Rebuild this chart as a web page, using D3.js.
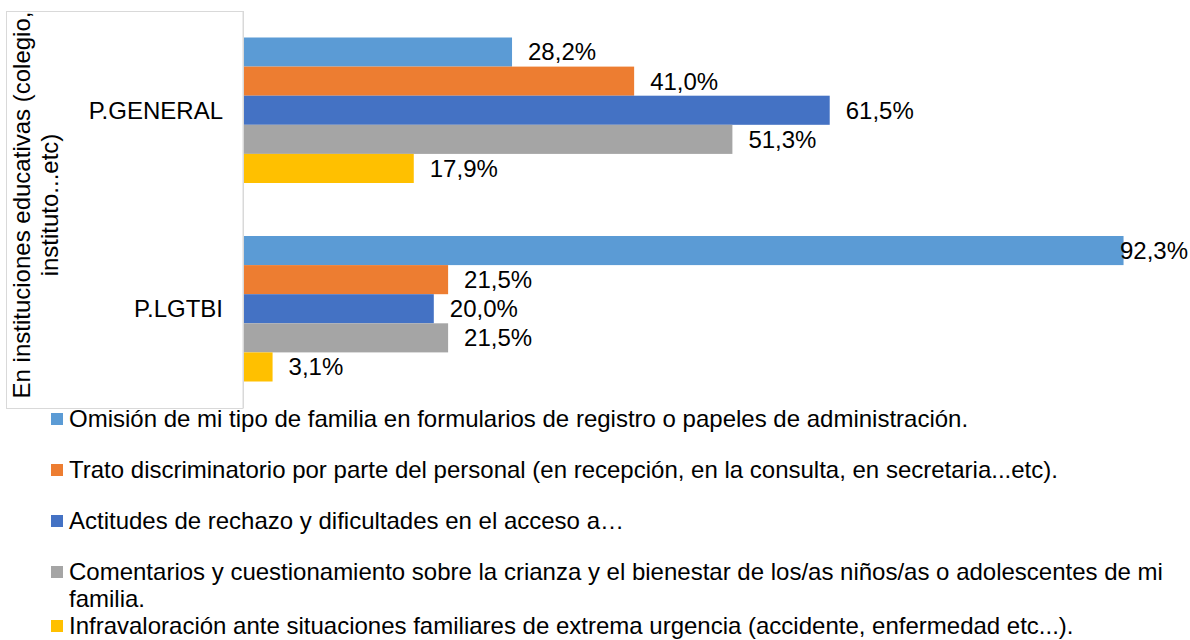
<!DOCTYPE html>
<html>
<head>
<meta charset="utf-8">
<script src="https://cdn.jsdelivr.net/npm/d3@7"></script>
<style>
  html, body { margin: 0; padding: 0; background: #fff; }
  svg { display: block; font-family: "Liberation Sans", Arial, sans-serif; }
</style>
</head>
<body>
<svg id="chart" width="1190" height="640"></svg>
<script>
// ---- data ----
const categories = ["P.GENERAL", "P.LGTBI"];
const seriesNames = [
  "Omisión de mi tipo de familia en formularios de registro o papeles de administración.",
  "Trato discriminatorio por parte del personal (en recepción, en la consulta, en secretaria...etc).",
  "Actitudes de rechazo y dificultades en el acceso a…",
  "Comentarios y cuestionamiento sobre la crianza y el bienestar de los/as niños/as o adolescentes de mi familia.",
  "Infravaloración ante situaciones familiares de extrema urgencia (accidente, enfermedad etc...)."
];
const seriesColors = ["#5B9BD5", "#ED7D31", "#4472C4", "#A5A5A5", "#FFC000"];
const valuesGeneral = [28.2, 41.0, 61.5, 51.3, 17.9];
const valuesLGTBI = [92.3, 21.5, 20.0, 21.5, 3.1];
const axisTitleLines = ["En instituciones educativas (colegio,", "instituto...etc)"];

const valuesByCategory = [valuesGeneral, valuesLGTBI];

// ---- layout ----
const svg = d3.select("#chart");
const FONT = 24;
const plotLeft = 243, plotTop = 11, plotBottom = 408;
const x = d3.scaleLinear().domain([0, 100]).range([plotLeft, plotLeft + 954]);
const y = d3.scaleBand().domain(categories).range([plotTop, plotBottom])
  .paddingInner(0.267).paddingOuter(0.1335);
const ySub = d3.scaleBand().domain(d3.range(seriesNames.length)).range([0, y.bandwidth()]).padding(0);

// axis title box
svg.append("rect")
  .attr("x", 6.5).attr("y", plotTop + 0.5)
  .attr("width", plotLeft - 6.5).attr("height", plotBottom - plotTop)
  .attr("fill", "none").attr("stroke", "#d9d9d9").attr("stroke-width", 1);

// axis title (rotated)
const titleCenterY = 205;
const tg = svg.append("g");
axisTitleLines.forEach((ln, i) => {
  tg.append("text")
    .attr("transform", `translate(${30 + i * 28},${titleCenterY}) rotate(-90)`)
    .attr("text-anchor", "middle")
    .attr("font-size", FONT)
    .attr("fill", "#000")
    .text(ln);
});

// bars
const fmt = v => d3.format(".1f")(v).replace(".", ",") + "%";
categories.forEach((cat, ci) => {
  const g = svg.append("g").attr("transform", `translate(0,${y(cat)})`);
  const vals = valuesByCategory[ci];
  g.selectAll("rect.bar").data(vals).join("rect")
    .attr("class", "bar")
    .attr("x", x(0))
    .attr("y", (d, i) => ySub(i))
    .attr("width", d => x(d) - x(0))
    .attr("height", ySub.bandwidth())
    .attr("fill", (d, i) => seriesColors[i]);
  g.selectAll("text.lbl").data(vals).join("text")
    .attr("class", "lbl")
    .attr("y", (d, i) => ySub(i) + ySub.bandwidth() / 2)
    .attr("dy", "0.35em")
    .attr("font-size", FONT)
    .attr("fill", "#000")
    .text(d => fmt(d))
    .each(function(d) {
      const w = this.getComputedTextLength();
      let lx = x(d) + 16;
      if (lx + w > 1188) lx = 1188 - w;
      d3.select(this).attr("x", lx);
    });
});

// category axis line
svg.append("line")
  .attr("x1", plotLeft + 0.5).attr("x2", plotLeft + 0.5)
  .attr("y1", plotTop).attr("y2", plotBottom)
  .attr("stroke", "#d9d9d9").attr("stroke-width", 1);

// category labels
svg.selectAll("text.cat").data(categories).join("text")
  .attr("class", "cat")
  .attr("x", 223)
  .attr("y", d => y(d) + y.bandwidth() / 2)
  .attr("dy", "0.35em")
  .attr("text-anchor", "end")
  .attr("font-size", FONT)
  .attr("fill", "#000")
  .text(d => d);

// legend
const legendX = 51, textX = 69, maxRight = 1178;
const rowBaselines = [427, 478, 529, 580, 634];
const lineGap = 27;
seriesNames.forEach((name, i) => {
  const g = svg.append("g");
  g.append("rect")
    .attr("x", legendX).attr("y", rowBaselines[i] - 14)
    .attr("width", 12).attr("height", 12)
    .attr("fill", seriesColors[i]);
  const t = g.append("text")
    .attr("font-size", FONT).attr("fill", "#000");
  const words = name.split(" ");
  let line = [];
  let lineNo = 0;
  let tspan = t.append("tspan").attr("x", textX).attr("y", rowBaselines[i]);
  words.forEach(w => {
    line.push(w);
    tspan.text(line.join(" "));
    if (textX + tspan.node().getComputedTextLength() > maxRight && line.length > 1) {
      line.pop();
      tspan.text(line.join(" "));
      line = [w];
      lineNo++;
      tspan = t.append("tspan").attr("x", textX).attr("y", rowBaselines[i] + lineNo * lineGap).text(w);
    }
  });
});
</script>
</body>
</html>
